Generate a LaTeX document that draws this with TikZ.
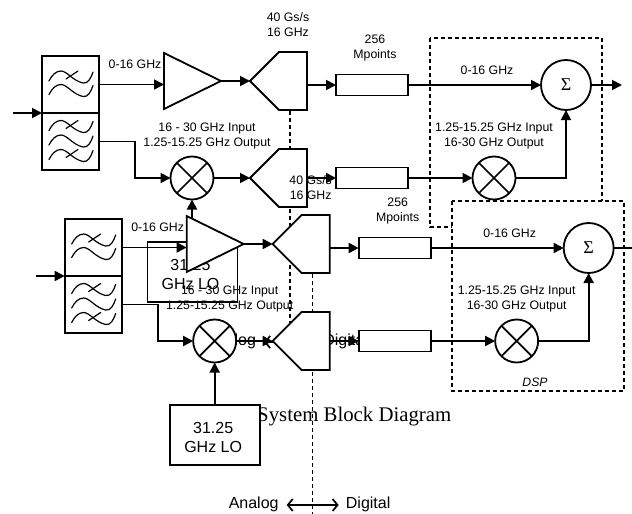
\documentclass[tikz,border=0pt]{standalone}
\usepackage{fontspec}
\setmainfont{Liberation Sans}
\newfontfamily\capfont{Liberation Serif}
\usetikzlibrary{arrows.meta}
\tikzset{
  wire/.style={line width=1.8pt,-{Triangle[length=10pt,width=10pt]}},
  plainwire/.style={line width=1.8pt},
  blockbox/.style={draw,fill=white,line width=1.8pt,inner sep=0pt,outer sep=0pt},
  shapeline/.style={draw,fill=white,line width=1.8pt,line join=miter},
  filterbox/.style={blockbox,minimum width=57pt,minimum height=57pt},
  membox/.style={blockbox,minimum width=72pt,minimum height=21pt},
  lobox/.style={blockbox,minimum width=90pt,minimum height=60pt,align=center,font=\fontsize{16}{19.5}\selectfont},
  mixcircle/.style={blockbox,circle,minimum size=43pt},
  sumcircle/.style={blockbox,circle,minimum size=50pt,font=\capfont\fontsize{18}{20}\selectfont},
  txt/.style={inner sep=0pt,align=center,font=\fontsize{12.3}{15}\selectfont},
  bigtxt/.style={inner sep=0pt,font=\fontsize{16}{19}\selectfont},
  dashline/.style={line width=1.6pt,dash pattern=on 4pt off 3pt},
  wavy/.style={line width=1.2pt,line cap=round},
}
\newcommand{\wavecurve}[1]{%
  \draw[wavy,shift={(#1)}] (0,0) .. controls (3,-6) and (7,-10) .. (12,-10)
     .. controls (18,-10) and (24,0) .. (34,2) .. controls (39,3) and (42,-3) .. (44,-9);}
\newcommand{\wavecross}[1]{%
  \draw[wavy,shift={(#1)}] (17,-2) -- (29,-10);}
\newcommand{\chain}[4]{%
\begin{scope}[shift={(#1,#2)},name prefix=#3-]
  % analog / digital boundary
  \coordinate (dtop) at (290,111);
  \coordinate (dbot) at (290,351);
  \draw[dashline] (dtop) -- (dbot);
  \node[bigtxt] (an) at (231,341) {Analog};
  \node[bigtxt] (di) at (345.5,341.5) {Digital};
  \coordinate (bl) at (264,342);
  \coordinate (br) at (316,342);
  \draw[line width=1.7pt,{Straight Barb[length=5pt,width=12pt]}-{Straight Barb[length=5pt,width=12pt]}] (bl) -- (br);
  % filters
  \node[filterbox] (f1) at (70.5,84.5) {};
  \node[filterbox] (f2) at (70.5,141.5) {};
  \wavecurve{49,81}\wavecross{49,81}\wavecurve{49,94.5}
  \wavecurve{49,130.5}\wavecross{49,130.5}\wavecurve{49,145}\wavecurve{49,159.5}\wavecross{49,159.5}
  \coordinate (in) at (13,113);
  \draw[wire] (in) -- (f1.south west);
  % amplifier
  \coordinate (ampa) at (164,53);
  \coordinate (ampb) at (164,109);
  \coordinate (ampo) at (221,81);
  \draw[shapeline] (ampa) -- (ampb) -- (ampo) -- cycle;
  % converters
  \coordinate (ad1) at (250,81);
  \coordinate (ad1a) at (279,52);
  \coordinate (ad1b) at (307,52);
  \coordinate (ad1c) at (307,110);
  \coordinate (ad1d) at (279,110);
  \draw[shapeline] (ad1) -- (ad1a) -- (ad1b) -- (ad1c) -- (ad1d) -- cycle;
  \coordinate (ad2) at (250,178);
  \coordinate (ad2a) at (279,149);
  \coordinate (ad2b) at (307,149);
  \coordinate (ad2c) at (307,207);
  \coordinate (ad2d) at (279,207);
  \draw[shapeline] (ad2) -- (ad2a) -- (ad2b) -- (ad2c) -- (ad2d) -- cycle;
  % blocks
  \node[membox] (r1) at (372,85) {};
  \node[membox] (r2) at (372,178) {};
  \node[mixcircle] (m1) at (192,178) {};
  \draw[line width=1.7pt] (m1.north west) -- (m1.south east) (m1.north east) -- (m1.south west);
  \node[mixcircle] (m2) at (494,178) {};
  \draw[line width=1.7pt] (m2.north west) -- (m2.south east) (m2.north east) -- (m2.south west);
  \node[sumcircle] (s) at (566,85) {Σ};
  \node[lobox] (lo) at (192.5,272) {\rule{0pt}{16pt}31.25\hspace*{4pt}\\GHz LO\hspace*{4pt}};
  % connectors
  \draw[wire] (f1.east) -- (f1.east -| ampa);
  \draw[plainwire,-{Triangle[length=10pt,width=10pt]}] (ampo) -- (ad1);
  \draw[wire] (r1.west -| ad1c) -- (r1.west);
  \draw[wire] (r1.east) -- (s.west);
  \coordinate (sout) at (#4,85);
  \draw[wire] (s.east) -- (sout);
  \draw[wire] (f2.east) -- (135,141.5) -- (135,178) -- (m1.west);
  \draw[wire] (m1.east) -- (ad2);
  \draw[wire] (r2.west -| ad2c) -- (r2.west);
  \draw[wire] (r2.east) -- (m2.west);
  \draw[wire] (m2.east) -- (s.south |- m2.east) -- (s.south);
  \draw[wire] (lo.north -| m1.south) -- (m1.south);
  % labels
  \node[txt] (t1) at (135,64) {0-16 GHz};
  \node[txt] (t2) at (288,25) {40 Gs/s\\16 GHz};
  \node[txt] (t3) at (375,47.5) {256\\Mpoints};
  \node[txt] (t4) at (487,70) {0-16 GHz};
  \node[txt] (t5) at (207,135.5) {16 - 30 GHz Input\\1.25-15.25 GHz Output};
  \node[txt] (t6) at (494,135.5) {1.25-15.25 GHz Input\\16-30 GHz Output};
\end{scope}}
\begin{document}
\begin{tikzpicture}[x=1pt,y=-1pt]
  \useasboundingbox (0,0) rectangle (632,514);
  \clip (0,0) rectangle (632,514);
  \fill[white] (0,0) rectangle (632,514);
  % first DSP region
  \coordinate (da) at (430,38);
  \coordinate (db) at (602,227);
  \draw[dashline] (da) rectangle (db);
  \chain{0}{0}{a}{622}
  \node[inner sep=0pt,anchor=base west,font=\capfont\fontsize{20.8}{24}\selectfont] (cap) at (257,421) {System Block Diagram};
  % second DSP region
  \coordinate (dc) at (452,201);
  \coordinate (dd) at (624,391);
  \draw[dashline,fill=white] (dc) rectangle (dd);
  \node[txt,font=\itshape\fontsize{12.2}{15}\selectfont] (dsp) at (535,382) {DSP};
  \chain{22.67}{163}{b}{650}
\end{tikzpicture}
\end{document}
